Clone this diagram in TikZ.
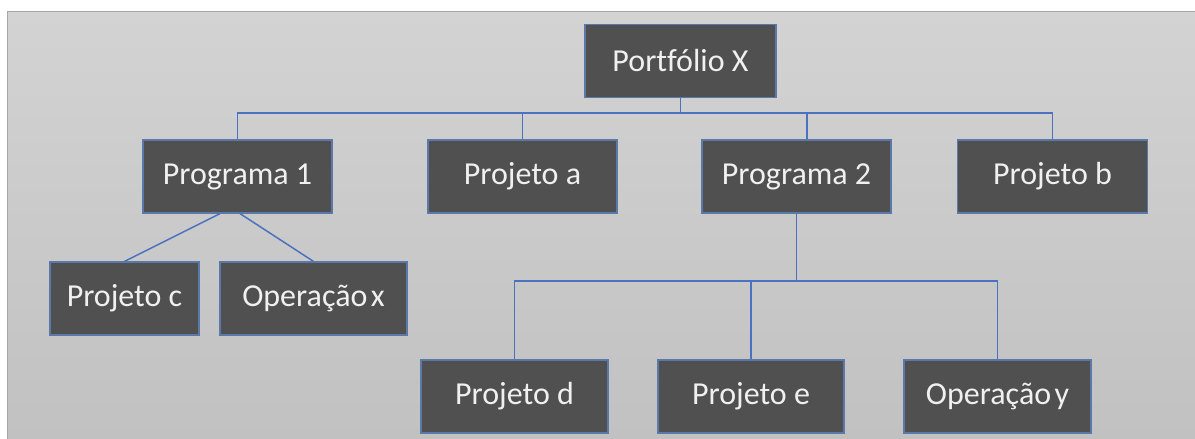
\documentclass[tikz,border=0pt]{standalone}
\usepackage{fontspec}
\setmainfont{Carlito}[Ligatures=NoCommon]
\definecolor{boxfill}{HTML}{505050}
\definecolor{boxline}{HTML}{5A78A8}
\definecolor{linkblue}{HTML}{4A72C0}
\definecolor{paneltop}{HTML}{D3D3D3}
\definecolor{panelbot}{HTML}{C1C1C1}

\begin{document}
\begin{tikzpicture}[x=0.5pt, y=-0.5pt,
    orgbox/.style={rectangle, draw=boxline, line width=0.6pt, fill=boxfill, text=white!94!black,
      minimum height=36.5pt, inner sep=0pt, font=\fontsize{16}{19}\selectfont},
    link/.style={draw=linkblue, line width=0.75pt}]
  \useasboundingbox (0,0) rectangle (1195,439);
  \fill[white] (0,0) rectangle (1195,439);
  \shade[top color=paneltop, bottom color=panelbot] (7,11) rectangle (1195,439);
  \draw[gray!70, line width=0.8pt] (7.5,439) -- (7.5,11.5) -- (1195,11.5);
  \node[orgbox, minimum width=95.5pt] (port) at (680.5,61) {Portfólio X};
  \node[orgbox, minimum width=94.5pt] (prog1) at (237.5,176.5) {Programa 1};
  \node[orgbox, minimum width=94.5pt] (proja) at (522.5,176.5) {Projeto a};
  \node[orgbox, minimum width=94.5pt] (prog2) at (796.5,176.5) {Programa 2};
  \node[orgbox, minimum width=95pt] (projb) at (1052.5,176.5) {Projeto b};
  \node[orgbox, minimum width=74.5pt] (projc) at (124.5,298.5) {Projeto c};
  \node[orgbox, minimum width=93.5pt] (operx) at (313.5,298.5) {Operação\hspace{-0.12em} x};
  \node[orgbox, minimum width=93.5pt] (projd) at (514.5,396.5) {Projeto d};
  \node[orgbox, minimum width=93pt] (proje) at (751,396.5) {Projeto e};
  \node[orgbox, minimum width=93.5pt] (opery) at (997.5,396.5) {Operação\hspace{-0.12em} y};
  \coordinate (bus1) at (680.5,113);
  \coordinate (bus2) at (796.5,281);
  \draw[link] (port.south) -- (bus1);
  \draw[link] (prog1.north) |- (bus1);
  \draw[link] (proja.north) |- (bus1);
  \draw[link] ([xshift=5.25pt]prog2.north) |- (bus1);
  \draw[link] (projb.north) |- (bus1);
  \draw[link] ([xshift=-8.75pt]prog1.south) -- (projc.north);
  \draw[link] ([xshift=1.25pt]prog1.south) -- (operx.north);
  \draw[link] (prog2.south) -- (bus2);
  \draw[link] (projd.north) |- (bus2);
  \draw[link] (proje.north) |- (bus2);
  \draw[link] (opery.north) |- (bus2);
\end{tikzpicture}
\end{document}
